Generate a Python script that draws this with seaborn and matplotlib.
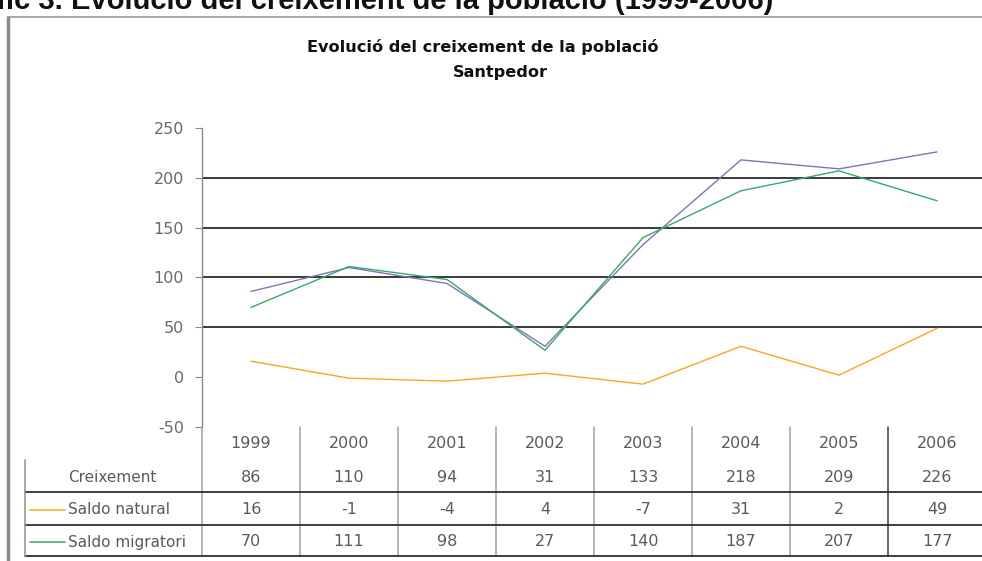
import matplotlib
matplotlib.use("Agg")
import matplotlib.pyplot as plt
import matplotlib.transforms as mtrans
from matplotlib.lines import Line2D
import seaborn as sns
import pandas as pd

years = ["1999", "2000", "2001", "2002", "2003", "2004", "2005", "2006"]
creixement = [86, 110, 94, 31, 133, 218, 209, 226]
saldo_natural = [16, -1, -4, 4, -7, 31, 2, 49]
saldo_migratori = [70, 111, 98, 27, 140, 187, 207, 177]
series_names = ["Creixement", "Saldo natural", "Saldo migratori"]
colors = {"Creixement": "#7d74bb", "Saldo natural": "#f7a823", "Saldo migratori": "#3aa86a"}

sns.set_style("white")
plt.rcParams["font.family"] = ["DejaVu Sans"]

W, H = 982, 561
fig = plt.figure(figsize=(W / 100, H / 100), dpi=100)
fx = lambda px: px / W
fy = lambda py: 1 - py / H

ax = fig.add_axes([fx(202), fy(427), fx(986) - fx(202), fy(128) - fy(427)])

rows = []
for name, vals in zip(series_names, [creixement, saldo_natural, saldo_migratori]):
    for i, v in enumerate(vals):
        rows.append({"idx": i, "value": v, "serie": name})
df = pd.DataFrame(rows)
sns.lineplot(data=df, x="idx", y="value", hue="serie", palette=colors,
             hue_order=series_names, linewidth=1.0, legend=False, ax=ax, sort=False)

ax.set_xlim(-0.5, 7.5)
ax.set_ylim(-50, 250)
ax.set_yticks([-50, 0, 50, 100, 150, 200, 250])
ax.set_yticklabels(["-50", "0", "50", "100", "150", "200", "250"])
ax.set_xticks([])
ax.set_xlabel("")
ax.set_ylabel("")
for y in [50, 100, 150, 200]:
    ax.axhline(y, color="#3a3a3a", lw=1.4, zorder=0)
for s in ["top", "right", "bottom"]:
    ax.spines[s].set_visible(False)
ax.spines["left"].set_color("#8a8a8a")
ax.spines["left"].set_linewidth(1.0)
ax.tick_params(axis="y", left=True, length=5, color="#8a8a8a", labelsize=11.5,
               labelcolor="#6a6a6a", pad=8)

# Data table below the plot
tr = mtrans.blended_transform_factory(ax.transData, fig.transFigure)
row_y = [444, 477, 510, 542]
for i, yr in enumerate(years):
    ax.text(i, fy(row_y[0]), yr, transform=tr, ha="center", va="center",
            fontsize=11.5, color="#5a5a5a")
for r, vals in enumerate([creixement, saldo_natural, saldo_migratori]):
    for i, v in enumerate(vals):
        ax.text(i, fy(row_y[r + 1]), str(v), transform=tr, ha="center", va="center",
                fontsize=11.5, color="#5a5a5a")
for i in range(8):
    c = "#4a4a4a" if i == 7 else "#a8a8a8"
    ax.add_line(Line2D([i - 0.5, i - 0.5], [fy(427), fy(556)], transform=tr,
                       color=c, lw=1.2, clip_on=False))

for yy in [492, 525, 556]:
    fig.add_artist(Line2D([fx(25), fx(990)], [fy(yy), fy(yy)], color="#2e2e2e", lw=1.3))
fig.add_artist(Line2D([fx(25), fx(25)], [fy(460), fy(556)], color="#9a9a9a", lw=1.2))

for r, name in enumerate(series_names):
    fig.text(fx(68), fy(row_y[r + 1]), name, ha="left", va="center",
             fontsize=11, color="#5a5a5a")
    if r > 0:
        fig.add_artist(Line2D([fx(30), fx(65)], [fy(row_y[r + 1]), fy(row_y[r + 1])],
                              color=colors[name], lw=1.1))

# Chart border
fig.add_artist(Line2D([fx(8), fx(8)], [fy(17), fy(561)], color="#8a8a8a", lw=2.5))
fig.add_artist(Line2D([fx(8), fx(990)], [fy(17), fy(17)], color="#9a9a9a", lw=1.2))

fig.text(fx(483), fy(47), "Evolució del creixement de la població", ha="center",
         va="center", fontsize=11.6, fontweight="bold", color="#111111")
fig.text(fx(500), fy(72), "Santpedor", ha="center", va="center", fontsize=11.6,
         fontweight="bold", color="#111111")

fig.text(fx(773), fy(9), "Gràfic 3. Evolució del creixement de la població (1999-2006)",
         ha="right", va="baseline", fontsize=21, fontweight="bold", color="#111111",
         family=["Liberation Sans", "DejaVu Sans"])

fig.savefig("out.png", dpi=100)
